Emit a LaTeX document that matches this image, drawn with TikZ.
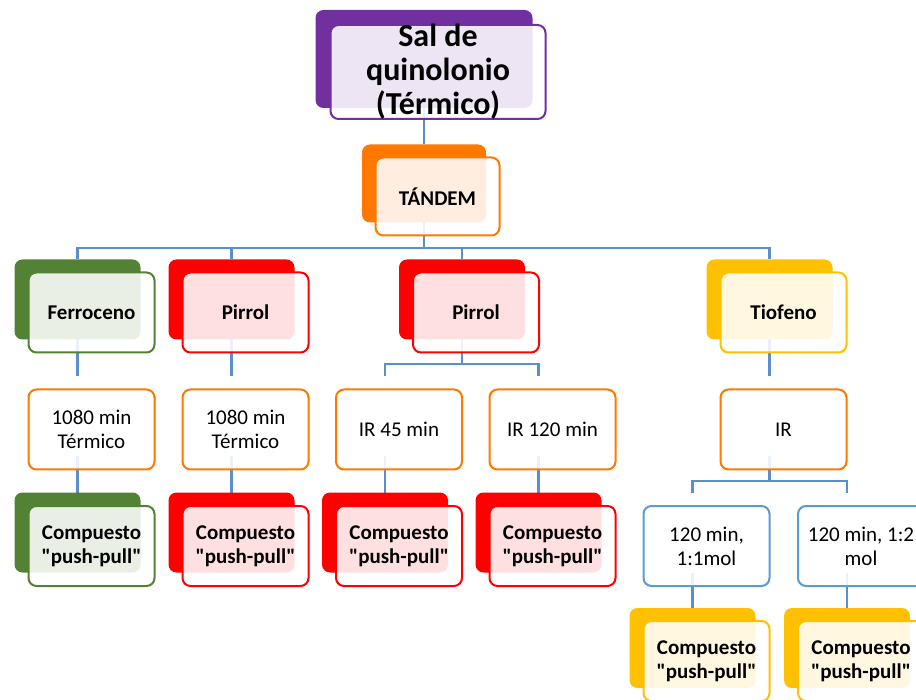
\documentclass[tikz,border=0pt]{standalone}
\usepackage{fontspec}
\setmainfont{Carlito}[Ligatures=TeXOff]
\usetikzlibrary{backgrounds}
\definecolor{cpurple}{HTML}{7030A0}
\definecolor{corange}{HTML}{FF7800}
\definecolor{cgreen}{HTML}{548235}
\definecolor{cred}{HTML}{FF0000}
\definecolor{cgold}{HTML}{FFC000}
\definecolor{cblue}{HTML}{5B9BD5}
\definecolor{connblue}{HTML}{5A8FCB}
\tikzset{
  box/.style={rounded corners=8pt, minimum width=126pt, minimum height=80pt, inner sep=0pt, outer sep=0pt},
  backbox/.style={box, fill=#1},
  frontbox/.style={box, draw=#1, line width=2pt, fill=white, fill opacity=0.88, text opacity=1, align=center, font=\fontsize{21}{24}\selectfont},
  boldfront/.style={frontbox=#1, font=\fontsize{21}{24}\selectfont\bfseries},
  conn/.style={draw=connblue, line width=2.5pt},
}
\begin{document}
\begin{tikzpicture}[x=1pt,y=-1pt]
\useasboundingbox (0,0) rectangle (916,700);
\clip (0,0) rectangle (916,700);
% top
\node[backbox=cpurple, minimum width=217pt, minimum height=98pt] (salB) at (424,59) {};
\node[frontbox=cpurple, minimum width=215pt, minimum height=94pt] (salF) at (438,72) {};
\node[align=center, inner sep=0pt, font=\fontsize{32}{34}\selectfont\bfseries] (salT) at (438,72) {Sal de\\quinolonio\\(Térmico)};
% tandem
\node[backbox=corange, minimum width=124pt, minimum height=78pt] (tanB) at (424,183.5) {};
\node[boldfront=corange, minimum width=124pt, minimum height=78pt] (tanF) at (437.5,196.5) {TÁNDEM};
% row 2
\node[backbox=cgreen] (ferB) at (77.5,299.5) {};
\node[boldfront=cgreen] (ferF) at (91.5,312.5) {Ferroceno};
\node[backbox=cred] (pir1B) at (231.5,299.5) {};
\node[boldfront=cred] (pir1F) at (245.5,312.5) {Pirrol};
\node[backbox=cred] (pir2B) at (462,299.5) {};
\node[boldfront=cred] (pir2F) at (476,312.5) {Pirrol};
\node[backbox=cgold] (tioB) at (769.5,299.5) {};
\node[boldfront=cgold] (tioF) at (783.5,312.5) {Tiofeno};
% row 3
\node[box] (t1B) at (77.5,416.5) {};
\node[frontbox=corange] (t1F) at (91.5,429.5) {1080 min\\Térmico};
\node[box] (t2B) at (231.5,416.5) {};
\node[frontbox=corange] (t2F) at (245.5,429.5) {1080 min\\Térmico};
\node[box] (ir45B) at (385,416.5) {};
\node[frontbox=corange] (ir45F) at (399,429.5) {IR 45 min};
\node[box] (ir120B) at (538.5,416.5) {};
\node[frontbox=corange] (ir120F) at (552.5,429.5) {IR 120 min};
\node[box] (irB) at (769.5,416.5) {};
\node[frontbox=corange] (irF) at (783.5,429.5) {IR};
% row 4
\node[backbox=cgreen] (c1B) at (77.5,532.5) {};
\node[boldfront=cgreen] (c1F) at (91.5,546) {Compuesto\\"push-pull"};
\node[backbox=cred] (c2B) at (231.5,532.5) {};
\node[boldfront=cred] (c2F) at (245.5,546) {Compuesto\\"push-pull"};
\node[backbox=cred] (c3B) at (385,532.5) {};
\node[boldfront=cred] (c3F) at (399,546) {Compuesto\\"push-pull"};
\node[backbox=cred] (c4B) at (538.5,532.5) {};
\node[boldfront=cred] (c4F) at (552.5,546) {Compuesto\\"push-pull"};
\node[box] (m1B) at (692.5,533) {};
\node[frontbox=cblue] (m1F) at (706.5,546) {120 min,\\1:1mol};
\node[box] (m2B) at (847,533) {};
\node[frontbox=cblue] (m2F) at (861,546) {120 min, 1:2\\mol};
% row 5
\node[backbox=cgold] (c5B) at (692.5,648) {};
\node[boldfront=cgold] (c5F) at (706.5,661) {Compuesto\\"push-pull"};
\node[backbox=cgold] (c6B) at (847,648) {};
\node[boldfront=cgold] (c6F) at (861,661) {Compuesto\\"push-pull"};
% connectors
\coordinate (bus1) at (0,248);
\coordinate (bus2) at (0,364);
\coordinate (bus3) at (0,481);
\begin{pgfonlayer}{background}
\draw[conn] (salB.south) -- (tanB.north);
\foreach \n in {ferB,pir1B,pir2B,tioB}
  \draw[conn] (tanB.south) -- (tanB.south |- bus1) -| (\n.north);
\foreach \n in {ir45B,ir120B}
  \draw[conn] (pir2B.south) -- (pir2B.south |- bus2) -| (\n.north);
\foreach \n in {m1B,m2B}
  \draw[conn] (irB.south) -- (irB.south |- bus3) -| (\n.north);
\draw[conn] (ferB.south) -- (t1B.north);
\draw[conn] (pir1B.south) -- (t2B.north);
\draw[conn] (tioB.south) -- (irB.north);
\draw[conn] (t1B.south) -- (c1B.north);
\draw[conn] (t2B.south) -- (c2B.north);
\draw[conn] (ir45B.south) -- (c3B.north);
\draw[conn] (ir120B.south) -- (c4B.north);
\draw[conn] (m1B.south) -- (c5B.north);
\draw[conn] (m2B.south) -- (c6B.north);
\end{pgfonlayer}
\end{tikzpicture}
\end{document}
